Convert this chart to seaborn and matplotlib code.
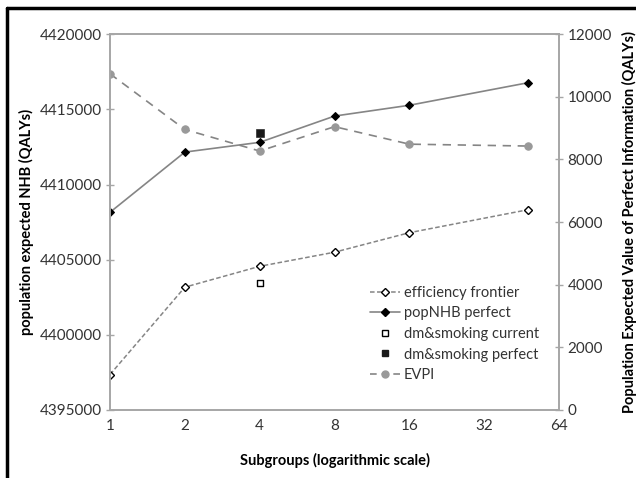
import matplotlib
matplotlib.use("Agg")
import matplotlib.pyplot as plt
import seaborn as sns
import pandas as pd
from matplotlib.lines import Line2D
from matplotlib.ticker import FixedLocator, FixedFormatter, NullLocator

sns.set_theme(style="white")
plt.rcParams['font.family'] = ['Lato', 'DejaVu Sans']

subgroups = [1, 2, 4, 8, 16, 48]
efficiency_frontier = [4397340, 4403160, 4404550, 4405490, 4406790, 4408320]
popnhb_perfect = [4408150, 4412160, 4412810, 4414560, 4415280, 4416780]
dm_subgroups = [4]
dm_current = [4403440]
dm_perfect = [4413410]
evpi = [10740, 8960, 8270, 9050, 8490, 8430]

x_ticks = [1, 2, 4, 8, 16, 32, 64]
x_ticklabels = ["1", "2", "4", "8", "16", "32", "64"]
left_ticks = [4395000, 4400000, 4405000, 4410000, 4415000, 4420000]
right_ticks = [0, 2000, 4000, 6000, 8000, 10000, 12000]

df = pd.DataFrame({"x": subgroups, "eff": efficiency_frontier,
                   "pop": popnhb_perfect, "evpi": evpi})
dm = pd.DataFrame({"x": dm_subgroups, "cur": dm_current, "perf": dm_perfect})

fig = plt.figure(figsize=(6.36, 4.78), dpi=100)
ax = fig.add_axes([0.173, 0.143, 0.706, 0.785])
ax2 = ax.twinx()

line_gray = "#858585"
spine_gray = "#a6a6a6"
text_col = "#333333"

sns.lineplot(data=df, x="x", y="eff", ax=ax, color=line_gray, lw=1.1,
             linestyle=(0, (3, 1.6)), marker="D", markersize=3.8,
             markerfacecolor="white", markeredgecolor="black", markeredgewidth=1.0)
sns.lineplot(data=df, x="x", y="pop", ax=ax, color=line_gray, lw=1.2,
             marker="D", markersize=4.3, markerfacecolor="black",
             markeredgecolor="black")
sns.scatterplot(data=dm, x="x", y="cur", ax=ax, marker="s", s=24,
                facecolor="white", edgecolor="black", linewidth=1.0)
sns.scatterplot(data=dm, x="x", y="perf", ax=ax, marker="s", s=28,
                color="#1a1a1a", edgecolor="#1a1a1a")
sns.lineplot(data=df, x="x", y="evpi", ax=ax2, color=line_gray, lw=1.2,
             linestyle=(0, (5, 4)), marker="o", markersize=5.3,
             markerfacecolor="#999999", markeredgecolor="#999999")

ax.set_xscale("log", base=2)
ax.set_xlim(1, 64)
ax.xaxis.set_major_locator(FixedLocator(x_ticks))
ax.xaxis.set_major_formatter(FixedFormatter(x_ticklabels))
ax.xaxis.set_minor_locator(NullLocator())
ax.set_ylim(4395000, 4420000)
ax.set_yticks(left_ticks)
ax.set_yticklabels([str(v) for v in left_ticks])
ax2.set_ylim(0, 12000)
ax2.set_yticks(right_ticks)
ax2.set_yticklabels([str(v) for v in right_ticks])

for a in (ax, ax2):
    for s in a.spines.values():
        s.set_color(spine_gray)
        s.set_linewidth(1.2)
        s.set_visible(True)
    a.tick_params(colors=spine_gray, labelcolor=text_col, labelsize=11,
                  length=4, width=1.0, pad=3)
ax.tick_params(axis="y", direction="inout", length=6)
ax.tick_params(axis="x", direction="out", length=4)
ax2.tick_params(axis="y", direction="inout", length=6)

ax.set_xlabel("Subgroups (logarithmic scale)", fontsize=10.5, fontweight="bold",
              color="black", labelpad=14)
ax.set_ylabel("population expected NHB (QALYs)", fontsize=10.5, fontweight="bold",
              color="black", labelpad=4)
ax2.set_ylabel("Population Expected Value of Perfect Information (QALYs)",
               fontsize=10.5, fontweight="bold", color="black", labelpad=7)

handles = [
    Line2D([], [], color=line_gray, lw=1.1, linestyle=(0, (3, 1.6)), marker="D",
           markersize=3.8, markerfacecolor="white", markeredgecolor="black"),
    Line2D([], [], color=line_gray, lw=1.2, marker="D", markersize=4.3,
           markerfacecolor="black", markeredgecolor="black"),
    Line2D([], [], lw=0, marker="s", markersize=5, markerfacecolor="white",
           markeredgecolor="black"),
    Line2D([], [], lw=0, marker="s", markersize=5, markerfacecolor="#1a1a1a",
           markeredgecolor="#1a1a1a"),
    Line2D([], [], color=line_gray, lw=1.2, linestyle=(0, (4, 3)), marker="o",
           markersize=5, markerfacecolor="#999999", markeredgecolor="#999999"),
]
labels = ["efficiency frontier", "popNHB perfect", "dm&smoking current",
          "dm&smoking perfect", "EVPI"]
leg = ax2.legend(handles, labels, loc="upper left", bbox_to_anchor=(0.58, 0.33),
                 frameon=False, fontsize=10.5, handlelength=2.0, handletextpad=0.3,
                 labelspacing=0.45, borderpad=0, borderaxespad=0)
for t in leg.get_texts():
    t.set_color(text_col)

# black frame lines at top and left of the figure
fig.add_artist(Line2D([0.011, 1.0], [0.983, 0.983], color="black", lw=2.5,
                      transform=fig.transFigure))
fig.add_artist(Line2D([0.011, 0.011], [0.0, 0.983], color="black", lw=2.5,
                      transform=fig.transFigure))

fig.savefig("out.png", dpi=100)
